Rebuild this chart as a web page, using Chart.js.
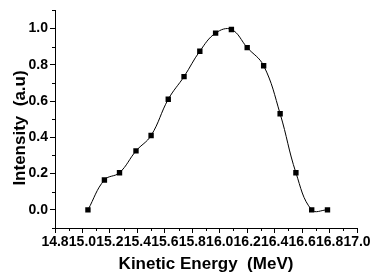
<!DOCTYPE html>
<html>
<head>
<meta charset="utf-8">
<script src="https://cdn.jsdelivr.net/npm/chart.js@4/dist/chart.umd.min.js"></script>
<style>
html,body{margin:0;padding:0;background:#fff;}
#wrap{width:373px;height:277px;}
</style>
</head>
<body>
<div id="wrap"><canvas id="c" width="373" height="277"></canvas></div>
<script>
// Data
const energies = [15.04, 15.16, 15.27, 15.39, 15.50, 15.625, 15.74, 15.855, 15.97, 16.085, 16.20, 16.32, 16.44, 16.555, 16.67, 16.785];
const intensity = [0.0, 0.165, 0.205, 0.325, 0.41, 0.61, 0.735, 0.875, 0.975, 0.995, 0.895, 0.795, 0.53, 0.205, 0.0, 0.0];
const xTicks = [14.8, 15.0, 15.2, 15.4, 15.6, 15.8, 16.0, 16.2, 16.4, 16.6, 16.8, 17.0];
const yTicks = [0.0, 0.2, 0.4, 0.6, 0.8, 1.0];
const xTitle = 'Kinetic Energy  (MeV)';
const yTitle = 'Intensity  (a.u)';

const FONT = "'Liberation Sans', Arial, sans-serif";
const pts = energies.map((x, i) => ({x: x, y: intensity[i]}));

const extras = {
  id: 'extras',
  afterDraw(chart) {
    const ctx = chart.ctx;
    const xs = chart.scales.x, ys = chart.scales.y;
    ctx.save();
    ctx.strokeStyle = '#000';
    ctx.lineWidth = 1;
    ctx.beginPath();
    for (let i = 0; i < xTicks.length - 1; i++) {
      const v = (xTicks[i] + xTicks[i + 1]) / 2;
      const px = Math.round(xs.getPixelForValue(v)) + 0.5;
      ctx.moveTo(px, xs.top);
      ctx.lineTo(px, xs.top + 3);
    }
    const ymin = [-0.1, 0.1, 0.3, 0.5, 0.7, 0.9, 1.1];
    for (const v of ymin) {
      const py = Math.round(ys.getPixelForValue(v)) + 0.5;
      ctx.moveTo(ys.right, py);
      ctx.lineTo(ys.right - 3, py);
    }
    ctx.stroke();
    // y axis title
    ctx.fillStyle = '#000';
    ctx.font = "bold 17px " + FONT;
    ctx.translate(25, 128);
    ctx.rotate(-Math.PI / 2);
    ctx.textAlign = 'center';
    ctx.textBaseline = 'alphabetic';
    ctx.fillText(yTitle, 0, 0);
    ctx.restore();
  }
};

new Chart(document.getElementById('c'), {
  type: 'line',
  data: {
    datasets: [{
      data: pts,
      borderColor: '#000',
      backgroundColor: '#000',
      borderWidth: 1,
      tension: 0.4,
      pointStyle: 'rect',
      pointRadius: 3.8,
      pointBorderWidth: 0,
      fill: false
    }]
  },
  options: {
    responsive: false,
    animation: false,
    events: [],
    layout: {padding: {top: 8, right: 16, left: 0, bottom: 0}},
    plugins: {legend: {display: false}, tooltip: {enabled: false}},
    scales: {
      x: {
        type: 'linear',
        min: 14.8, max: 17.0,
        afterBuildTicks(scale) { scale.ticks = xTicks.map(v => ({value: v})); },
        afterFit(scale) { scale.height = 49; },
        border: {display: true, color: '#000', width: 1},
        grid: {display: true, drawOnChartArea: false, drawTicks: true, tickLength: 5, color: '#000', tickColor: '#000'},
        ticks: {
          autoSkip: false, maxRotation: 0, minRotation: 0, padding: 1,
          color: '#000',
          font: {family: FONT, size: 14, weight: 'bold'},
          callback: (v) => Number(v).toFixed(1)
        },
        title: {display: true, text: xTitle, color: '#000', padding: {top: 6, bottom: 2},
          font: {family: FONT, size: 17, weight: 'bold'}}
      },
      y: {
        type: 'linear',
        min: -0.1, max: 1.1,
        afterBuildTicks(scale) { scale.ticks = yTicks.map(v => ({value: v})); },
        afterFit(scale) { scale.width = 55; },
        border: {display: true, color: '#000', width: 1},
        grid: {display: true, drawOnChartArea: false, drawTicks: true, tickLength: 5, color: '#000', tickColor: '#000'},
        ticks: {
          padding: 2, color: '#000',
          font: {family: FONT, size: 14, weight: 'bold'},
          callback: (v) => Number(v).toFixed(1)
        },
        title: {display: false}
      }
    }
  },
  plugins: [extras]
});
</script>
</body>
</html>
